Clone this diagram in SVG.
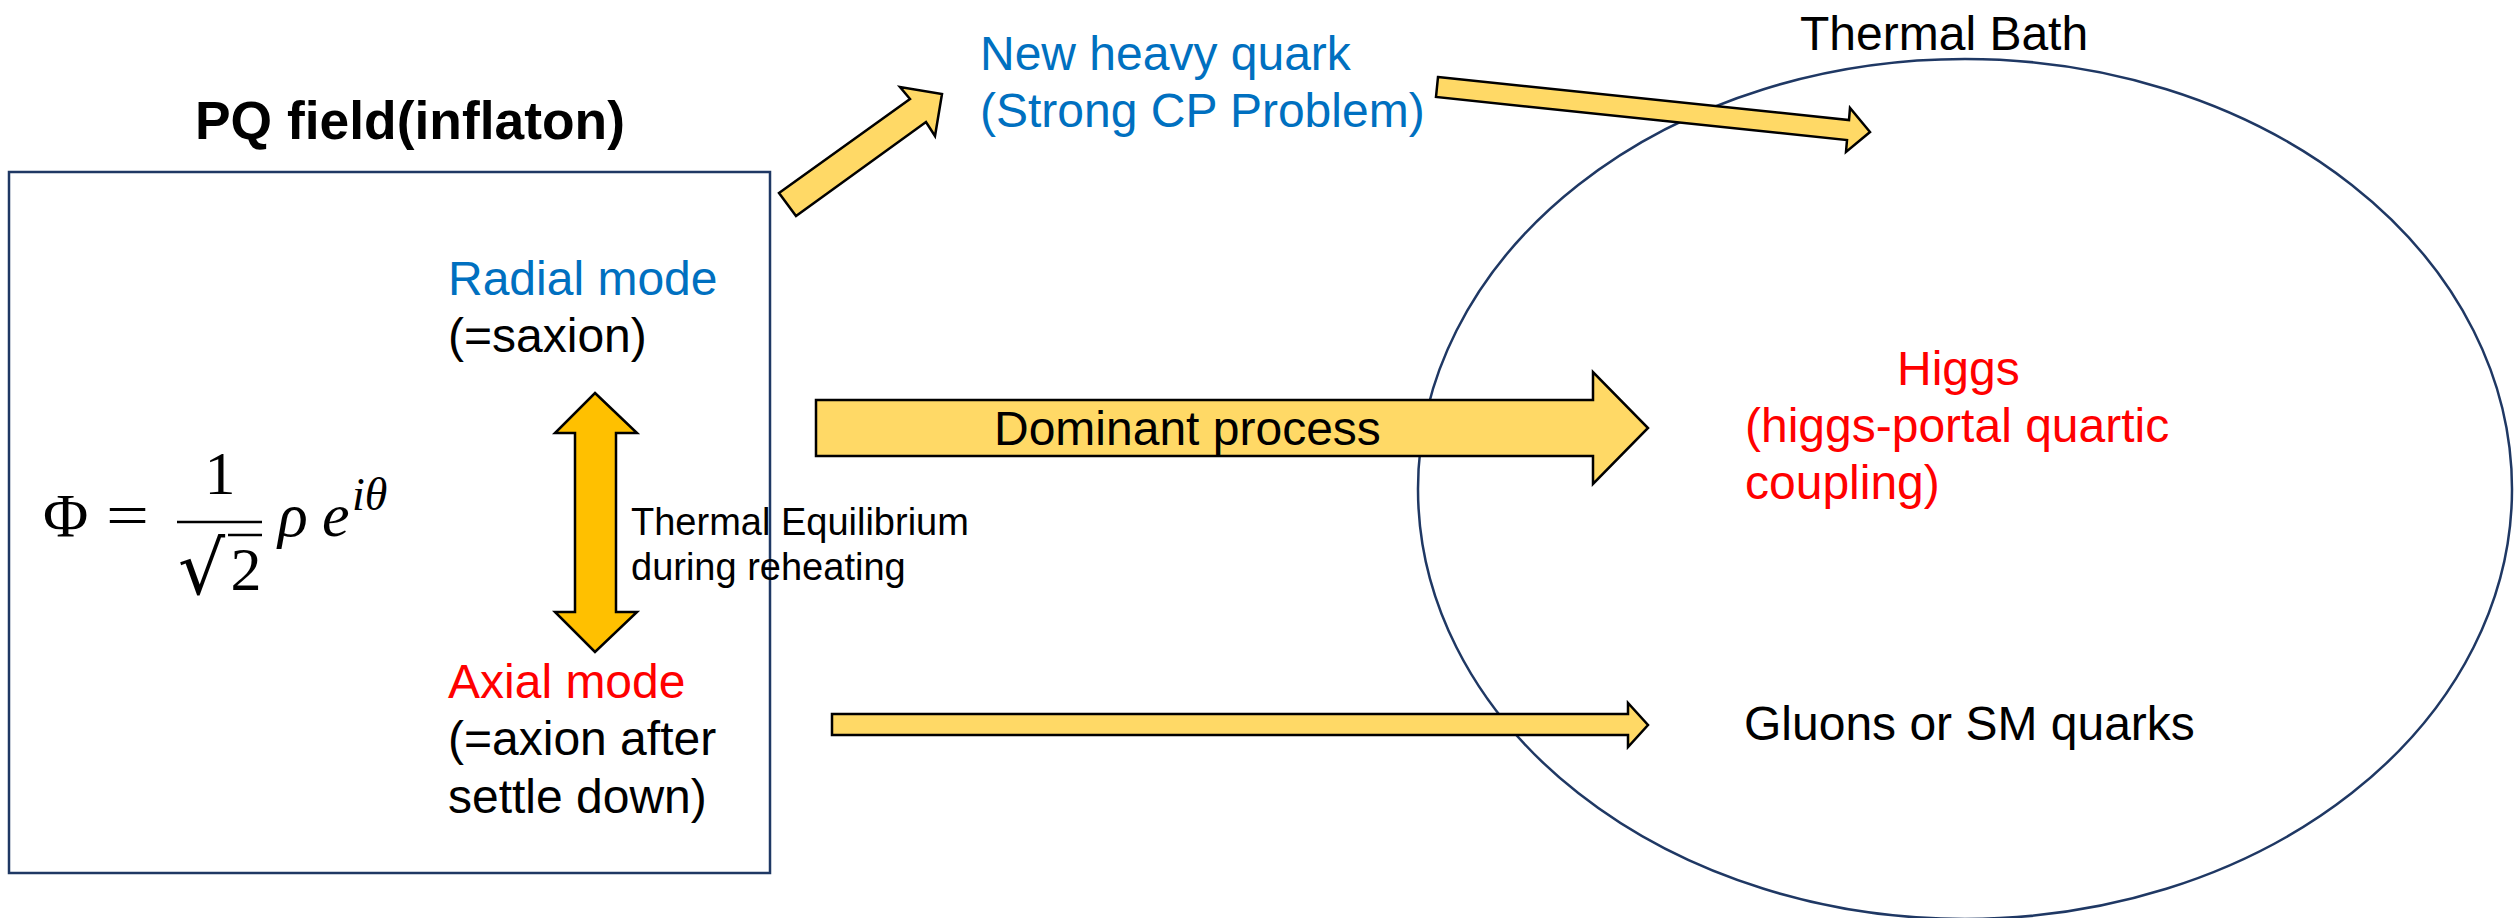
<svg xmlns="http://www.w3.org/2000/svg" width="2514" height="918" viewBox="0 0 2514 918">
<style>
.t{font-family:"Liberation Sans",Arial,sans-serif;font-size:48px;fill:#000}
.small{font-size:38px}
.title{font-weight:bold;font-size:53px}
.blue{fill:#0070C0}
.red{fill:#FF0000}
.frame{fill:none;stroke:#1F3864;stroke-width:2.5}
.arrow{fill:#FFD966;stroke:#000;stroke-width:2.5;stroke-linejoin:miter}
.darrow{fill:#FFC000;stroke:#000;stroke-width:2.5;stroke-linejoin:miter}
.m{font-family:"Liberation Serif","Times New Roman",serif;font-size:62px;fill:#000}
.mi{font-style:italic}
.rule{stroke:#000;stroke-width:2.6}
</style>
<rect width="2514" height="918" fill="#fff"/>

<g id="thermal-bath">
  <ellipse class="frame" cx="1965" cy="489" rx="547" ry="430" stroke-width="2"/>
  <text class="t" x="1800" y="50">Thermal Bath</text>
</g>

<g id="pq-field">
  <text class="t title" x="195" y="139" textLength="430" lengthAdjust="spacingAndGlyphs">PQ field(inflaton)</text>
  <rect class="frame" x="9" y="172" width="761" height="701"/>
  <g id="formula">
    <text class="m" x="43" y="536">Φ</text>
    <text class="m" x="106" y="536" textLength="43" lengthAdjust="spacingAndGlyphs">=</text>
    <text class="m" x="220" y="494" text-anchor="middle">1</text>
    <line class="rule" x1="177" y1="522" x2="262" y2="522"/>
    <text x="178" y="594" style="font-family:'DejaVu Serif',serif;font-size:74px">√</text>
    <line class="rule" x1="228" y1="535" x2="262" y2="535"/>
    <text class="m" x="246" y="590" text-anchor="middle">2</text>
    <text class="m mi" x="278" y="536">ρ</text>
    <text class="m mi" x="322" y="536">e</text>
    <text class="m mi" x="352" y="510" style="font-size:46px">iθ</text>
  </g>
</g>

<g id="radial-mode">
  <text class="t blue" x="448" y="295">Radial mode</text>
  <text class="t" x="448" y="352">(=saxion)</text>
</g>

<g id="axial-mode">
  <text class="t red" x="448" y="698">Axial mode</text>
  <text class="t" x="448" y="755">(=axion after</text>
  <text class="t" x="448" y="813">settle down)</text>
</g>

<g id="new-heavy-quark">
  <text class="t blue" x="980" y="70">New heavy quark</text>
  <text class="t blue" x="980" y="127">(Strong CP Problem)</text>
</g>

<g id="higgs">
  <text class="t red" x="1897" y="385">Higgs</text>
  <text class="t red" x="1745" y="442">(higgs-portal quartic</text>
  <text class="t red" x="1745" y="499">coupling)</text>
</g>

<g id="gluons">
  <text class="t" x="1744" y="740">Gluons or SM quarks</text>
</g>

<g id="connectors">
  <polygon class="arrow" points="779,193 910,99 900,87 942,94 935,136 926,122 796,216"/>
  <polygon class="arrow" points="1438,77 1849,120 1850,108 1870,132 1846,152 1847,140 1436,97"/>
  <polygon class="arrow" points="816,400 1593,400 1593,372 1648,428 1593,484 1593,456 816,456"/>
  <text class="t" x="994" y="445">Dominant process</text>
  <polygon class="arrow" points="832,714 1628,714 1628,703 1648,725 1628,747 1628,735 832,735"/>
  <polygon class="darrow" points="595,393 637,433 616,433 616,612 637,612 595,652 555,612 575,612 575,433 555,433"/>
  <text class="t small" x="631" y="535">Thermal Equilibrium</text>
  <text class="t small" x="631" y="580">during reheating</text>
</g>
</svg>
